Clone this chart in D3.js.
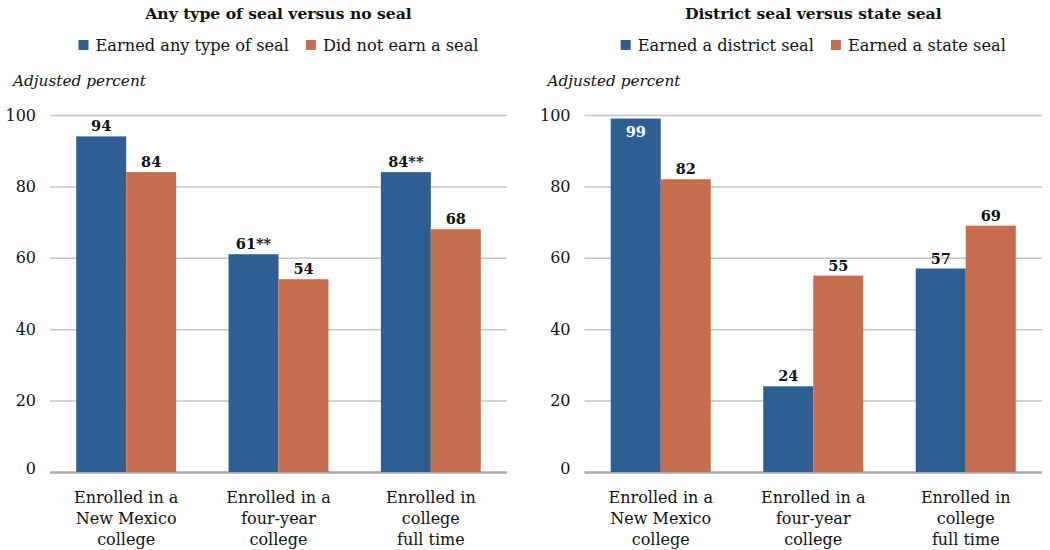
<!DOCTYPE html>
<html>
<head>
<meta charset="utf-8">
<script src="https://cdn.jsdelivr.net/npm/d3@7"></script>
<style>
  html, body { margin: 0; padding: 0; background: #fff; }
  svg { display: block; font-family: "DejaVu Serif", serif; }
</style>
</head>
<body>
<svg id="chart" width="1050" height="550"></svg>
<script>
// Category labels (one entry per line)
const categories = [
  ["Enrolled in a", "New Mexico", "college"],
  ["Enrolled in a", "four-year", "college"],
  ["Enrolled in", "college", "full time"]
];
const yTicks = [0, 20, 40, 60, 80, 100];

// Panel 1: any seal vs. no seal
const leftTitle = "Any type of seal versus no seal";
const leftSeries = ["Earned any type of seal", "Did not earn a seal"];
const leftAnySeal = [94, 61, 84];
const leftNoSeal = [84, 54, 68];
const leftAnySealNotes = ["", "**", "**"];
const leftNoSealNotes = ["", "", ""];

// Panel 2: district seal vs. state seal
const rightTitle = "District seal versus state seal";
const rightSeries = ["Earned a district seal", "Earned a state seal"];
const rightDistrict = [99, 24, 57];
const rightState = [82, 55, 69];
const rightDistrictNotes = ["", "", ""];
const rightStateNotes = ["", "", ""];

const colors = ["#2E5F93", "#C76D4E"];
const svg = d3.select("#chart");

function drawPanel(opts) {
  const g = svg.append("g");
  const x0 = opts.x0, x1 = opts.x1;
  const y = d3.scaleLinear().domain([0, 100]).range([472, 115]);
  const x = d3.scaleBand().domain(d3.range(categories.length))
    .range([x0, x1]).paddingInner(0.344).paddingOuter(0.172);
  const xs = d3.scaleBand().domain([0, 1]).range([0, x.bandwidth()]);
  const cx = (x0 + x1) / 2;

  // Title
  g.append("text").attr("x", cx).attr("y", 19)
    .attr("text-anchor", "middle").attr("font-weight", "bold")
    .attr("font-size", 15.6).attr("fill", "#111").text(opts.title);

  // Legend, centred over the plot
  const leg = g.append("g");
  let lx = 0;
  opts.series.forEach((s, i) => {
    leg.append("rect").attr("x", lx).attr("y", 40).attr("width", 10).attr("height", 10)
      .attr("fill", colors[i]);
    const t = leg.append("text").attr("x", lx + 17).attr("y", 51)
      .attr("font-size", 16.2).attr("fill", "#111").text(s);
    lx += 17 + t.node().getComputedTextLength() + 17;
  });
  const legW = lx - 17;
  leg.attr("transform", `translate(${cx - legW / 2},0)`);

  // Axis title
  g.append("text").attr("x", x0 - 37).attr("y", 86)
    .attr("font-style", "italic").attr("font-size", 15.3).attr("fill", "#111")
    .text("Adjusted percent");

  // Gridlines and tick labels
  const axis = d3.axisLeft(y).tickValues(yTicks).tickSize(-(x1 - x0)).tickPadding(14);
  const ga = g.append("g").attr("transform", `translate(${x0},0)`).call(axis);
  ga.select(".domain").remove();
  ga.selectAll(".tick line").attr("stroke", d => d === 0 ? "#aaaaae" : "#c4c4c8")
    .attr("stroke-width", d => d === 0 ? 2.5 : 1.5);
  ga.selectAll(".tick text").attr("font-family", "DejaVu Serif, serif")
    .attr("font-size", 16).attr("fill", "#111")
    .attr("dy", d => d === 0 ? "0.1em" : "0.32em");

  // Bars
  const sets = [opts.a, opts.b];
  const notes = [opts.aNotes, opts.bNotes];
  sets.forEach((vals, si) => {
    g.append("g").selectAll("rect").data(vals).join("rect")
      .attr("x", (d, i) => x(i) + xs(si))
      .attr("width", xs.bandwidth())
      .attr("y", d => y(d))
      .attr("height", d => y(0) - y(d))
      .attr("fill", colors[si]);
    g.append("g").selectAll("text").data(vals).join("text")
      .attr("x", (d, i) => x(i) + xs(si) + xs.bandwidth() / 2)
      .attr("y", d => d >= 97 ? y(d) + 18 : y(d) - 5)
      .attr("text-anchor", "middle").attr("font-weight", "bold")
      .attr("font-size", 14.5)
      .attr("fill", d => d >= 97 ? "#fff" : "#111")
      .text((d, i) => d + notes[si][i]);
  });

  // Category labels
  const cl = g.append("g").selectAll("text").data(categories).join("text")
    .attr("text-anchor", "middle").attr("font-size", 16).attr("fill", "#111")
    .attr("x", (d, i) => x(i) + x.bandwidth() / 2).attr("y", 503);
  cl.selectAll("tspan").data(d => d).join("tspan")
    .attr("x", function () { return this.parentNode.getAttribute("x"); })
    .attr("dy", (d, i) => i === 0 ? 0 : 21)
    .text(d => d);
}

drawPanel({ x0: 50, x1: 507, title: leftTitle, series: leftSeries,
  a: leftAnySeal, b: leftNoSeal, aNotes: leftAnySealNotes, bNotes: leftNoSealNotes });
drawPanel({ x0: 584.5, x1: 1042, title: rightTitle, series: rightSeries,
  a: rightDistrict, b: rightState, aNotes: rightDistrictNotes, bNotes: rightStateNotes });
</script>
</body>
</html>
